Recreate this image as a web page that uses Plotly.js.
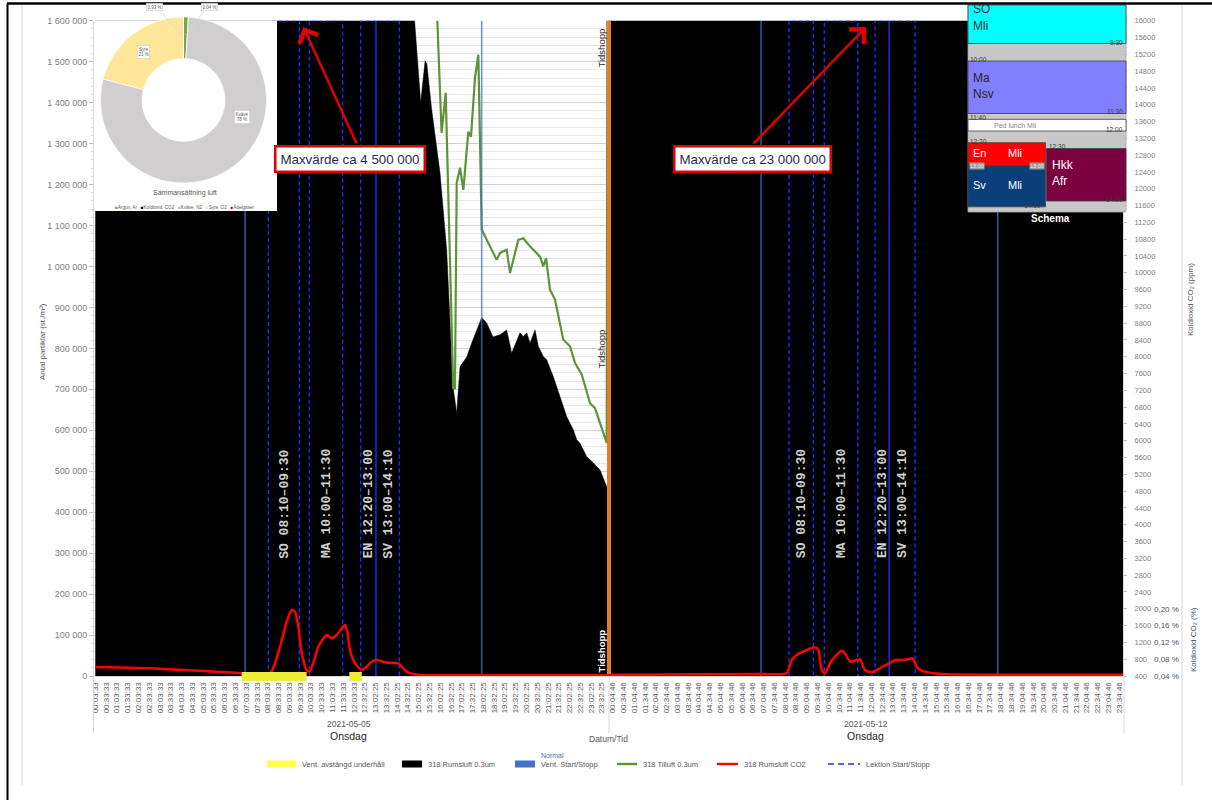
<!DOCTYPE html>
<html>
<head>
<meta charset="utf-8">
<script src="https://cdn.plot.ly/plotly-3.0.1.min.js"></script>
<style>html,body{margin:0;padding:0;background:#fff;}#chart{width:1212px;height:800px;}</style>
</head>
<body>
<div id="chart"></div>
<script>
// ---------- tick labels (x = half-hour slot index) ----------
const day1Ticks = ["00:03:33","00:33:33","01:03:33","01:33:33","02:03:33","02:33:33","03:03:33","03:33:33","04:03:33","04:33:33","05:03:33","05:33:33","06:03:33","06:33:33","07:03:33","07:33:33","08:03:33","08:33:33","09:03:33","09:33:33","10:03:33","10:33:33","11:03:33","11:33:33","12:03:33","12:32:25","13:02:25","13:32:25","14:02:25","14:32:25","15:02:25","15:32:25","16:02:25","16:32:25","17:02:25","17:32:25","18:02:25","18:32:25","19:02:25","19:32:25","20:02:25","20:32:25","21:02:25","21:32:25","22:02:25","22:32:25","23:02:25","23:32:25"];
const day2Ticks = ["00:04:46","00:34:46","01:04:46","01:34:46","02:04:46","02:34:46","03:04:46","03:34:46","04:04:46","04:34:46","05:04:46","05:34:46","06:04:46","06:34:46","07:04:46","07:34:46","08:04:46","08:34:46","09:04:46","09:34:46","10:04:46","10:34:46","11:04:46","11:34:46","12:04:46","12:34:46","13:04:46","13:34:46","14:04:46","14:34:46","15:04:46","15:34:46","16:04:46","16:34:46","17:04:46","17:34:46","18:04:46","18:34:46","19:04:46","19:34:46","20:04:46","20:34:46","21:04:46","21:34:46","22:04:46","22:34:46","23:04:46","23:34:46"];
const dayDates = ["2021-05-05","2021-05-12"];
const dayNames = ["Onsdag","Onsdag"];
const dayCenters = [23.5, 71.5];

// ---------- 318 Rumsluft 0.3um (st./m3) ----------
const roomX = [0,6,12,16,19.3,23,26,28.2,29.2,30.19,30.6,30.76,31.21,31.98,32.6,33.19,33.53,33.84,34.46,35.04,35.85,36.31,36.9,37.55,38.17,38.63,39.4,39.71,40.03,40.33,40.8,41.1,41.57,41.88,42.49,43.12,43.74,44.35,44.67,44.97,45.59,46.21,46.83,47.45,47.6,
               47.75,56,64,71.5,78,86,95.35];
const roomY = [2000000,1900000,2300000,3600000,4500000,3900000,3000000,2200000,1750000,1400000,1502000,1495000,1383000,1229000,1041000,706000,642000,755000,779000,821000,875000,862000,828000,833000,845000,788000,838000,829000,838000,813000,845000,805000,780000,772000,731000,682000,633000,601000,577000,568000,536000,520000,503000,462000,454000,
               9000000,14000000,19000000,23000000,17000000,12000000,8000000];

// ---------- 318 Tilluft 0.3um ----------
const supplyX = [0,12,24,31.3,32.13,32.51,33.21,33.37,33.53,33.84,34.15,34.61,34.86,35.23,35.54,35.79,35.85,36.62,37.24,37.55,38.17,38.48,39.25,39.71,40.33,41.26,41.57,41.82,42.19,42.65,43.42,44.04,44.51,45.13,45.9,46.36,46.67,46.98,47.45,47.6,60,75,95.35];
const supplyY = [2400000,2900000,2700000,1900000,1326000,1424000,703000,703000,1204000,1241000,1187000,1329000,1317000,1461000,1517000,1097000,1090000,1049000,1016000,1033000,1041000,984000,1065000,1069000,1049000,1024000,1000000,1020000,943000,919000,821000,805000,764000,736000,666000,654000,630000,605000,569000,3000000,3800000,4200000,3000000];

// ---------- 318 Rumsluft CO2 (ppm) ----------
const co2X = [0,6,13.42,16.21,17.14,17.76,18.22,18.53,18.84,19.15,19.61,19.86,20.23,20.69,21.47,21.93,22.4,22.86,23.17,23.38,23.63,24.1,24.72,25.18,25.65,26.11,27.04,28.11,28.43,28.89,29.5,30.13,40,47.6,
              48,61.67,64.15,64.61,65.08,66.0,66.78,67.08,67.4,67.7,68.17,68.63,69.25,69.56,70.02,70.64,70.95,71.41,72.04,72.5,73.11,73.58,74.2,74.82,75.43,75.84,76.21,76.68,77.75,78.99,95.35];
const co2Y = [614,575,471,464,1097,1692,1971,1931,1573,947,543,502,709,1097,1376,1297,1376,1535,1614,1454,1019,702,543,621,740,781,717,702,621,502,448,424,420,418,
              430,450,464,781,900,1019,1084,1019,543,464,702,861,1003,940,740,781,797,543,488,543,638,686,781,781,797,821,621,527,464,440,430];

// ---------- events ----------
const ventStartStop = [13.9, 35.85, 61.77, 83.73];          // Vent. Start/Stopp
const ventOffStart = [13.58, 23.57];                          // Vent. avstängd underhåll
const ventOffEnd   = [19.61, 24.72];
const lessonCodes = ["SO","MA","EN","SV","SO","MA","EN","SV"];
const lessonTimes = ["08:10–09:30","10:00–11:30","12:20–13:00","13:00–14:10","08:10–09:30","10:00–11:30","12:20–13:00","13:00–14:10"];
const lessonStart = [16.05,19.86,24.62,26.04,64.36,67.64,72.35,73.65];
const lessonEnd   = [18.93,22.95,26.04,28.21,66.62,70.74,73.65,76.06];
const timeJump = 47.66;
const maxTexts = ["Maxvärde ca 4 500 000","Maxvärde ca 23 000 000"];
const maxAt = [19.3, 71.51];
const maxBoxAt = [23.63, 60.93];

// ---------- air composition (inset pie) ----------
const airLabels = ["Argon, Ar","Koldioxid, CO2","Kväve, N2","Syre, O2","Ädelgaser"];
const airValues = [0.93,0.04,78.08,20.95,0.003];
const airColors = ["#70AD47","#000000","#D0CECE","#FFE699","#FF0000"];

// ---------- schedule inset ----------
const schedNames   = [["SO","Mli"],["Ma","Nsv"],["Ped lunch Mli"],["En","Mli"],["Hkk","Afr"],["Sv","Mli"]];
const schedStart   = ["08:10","10:00","11:40","12:20","12:30","13:00"];
const schedEnd     = ["09:30","11:30","12:00","13:00","14:00","14:10"];
const schedCol     = ["full","full","full","left","right","left"];
const schedColors  = ["#00FFFF","#8080FF","#FFFFFF","#FF0000","#7A0040","#0B3F7A"];
const schedTxtCol  = ["#333333","#262626","#7f7f7f","#FFFFFF","#FFFFFF","#FFFFFF"];

const TOP = 1600000;
const W = 1212, H = 800;
const px = x => x / W;
const py = y => 1 - y / H;

// ---------- traces ----------
const traces = [];
traces.push({x: roomX, y: roomY, type: 'scatter', mode: 'lines', fill: 'tozeroy', fillcolor: '#000000',
  line: {color: '#000000', width: 0.5}, hoverinfo: 'skip', name: '318 Rumsluft 0.3um'});
traces.push({x: supplyX, y: supplyY, type: 'scatter', mode: 'lines', line: {color: '#5E9438', width: 2.2},
  hoverinfo: 'skip', name: '318 Tilluft 0.3um'});
const vx = [], vy = [];
ventStartStop.forEach(v => { vx.push(v, v, null); vy.push(0, TOP, null); });
traces.push({x: vx, y: vy, type: 'scatter', mode: 'lines', line: {color: 'rgba(68,114,196,0.75)', width: 1.6},
  hoverinfo: 'skip', name: 'Vent. Start/Stopp'});
const lx = [], ly = [];
lessonStart.forEach((s, i) => {
  const e = lessonEnd[i];
  if (i > 0 && s - lessonEnd[i - 1] > 5) { lx.push(null); ly.push(null); }
  lx.push(s, s, e, e); ly.push(0, TOP, TOP, 0);
});
traces.push({x: lx, y: ly, type: 'scatter', mode: 'lines', line: {color: '#1530FF', width: 1.4, dash: '4px,3px'},
  hoverinfo: 'skip', name: 'Lektion Start/Stopp'});
traces.push({x: [timeJump, timeJump], y: [0, TOP], type: 'scatter', mode: 'lines',
  line: {color: '#E87B2E', width: 4}, hoverinfo: 'skip', name: 'Tidshopp'});
traces.push({x: co2X, y: co2Y, yaxis: 'y2', type: 'scatter', mode: 'lines',
  line: {color: '#FF0000', width: 2.5, shape: 'spline', smoothing: 0.6}, hoverinfo: 'skip', name: '318 Rumsluft CO2'});
// white panel behind the inset pie
traces.push({x: [0, 1, 1, 0, 0], y: [0, 0, 1, 1, 0], xaxis: 'x2', yaxis: 'y4', type: 'scatter', mode: 'lines',
  fill: 'toself', fillcolor: '#FFFFFF', line: {width: 0, color: '#FFFFFF'}, hoverinfo: 'skip'});
traces.push({type: 'pie', labels: airLabels, values: airValues, marker: {colors: airColors, line: {color: '#FFFFFF', width: 0.6}},
  hole: 0.5, sort: false, direction: 'clockwise', rotation: 0, textinfo: 'none', hoverinfo: 'skip',
  domain: {x: [px(100), px(267)], y: [py(183), py(17)]}, showlegend: false});

// ---------- shapes & annotations ----------
const shapes = [];
const ann = [];
const lbl = {family: 'Liberation Sans, Arial, sans-serif', color: '#595959'};

// ventilation off (yellow)
ventOffStart.forEach((s, i) => {
  shapes.push({type: 'rect', xref: 'x', yref: 'paper', x0: s, x1: ventOffEnd[i], y0: py(681), y1: py(672),
    fillcolor: '#EDED3A', line: {width: 0}});
});
// category group separators under the axis
[93.5, 609, 1124].forEach(x => shapes.push({type: 'line', xref: 'paper', yref: 'paper', x0: px(x), x1: px(x), y0: py(676), y1: py(733),
  line: {color: '#D9D9D9', width: 1}}));

// x group labels
dayCenters.forEach((c, i) => {
  ann.push({xref: 'x', yref: 'paper', x: c, y: py(724), text: dayDates[i], showarrow: false, font: {...lbl, size: 8.5}});
  ann.push({xref: 'x', yref: 'paper', x: c, y: py(736), text: dayNames[i], showarrow: false, font: {...lbl, size: 10.5, color: '#262626'}});
});
ann.push({xref: 'paper', yref: 'paper', x: px(608.5), y: py(739), text: 'Datum/Tid', showarrow: false, font: {...lbl, size: 8.5}});
// axis titles
ann.push({xref: 'paper', yref: 'paper', x: px(42), y: py(342), text: 'Antal partiklar (st./m³)', textangle: -90, showarrow: false, font: {...lbl, size: 8}});
ann.push({xref: 'paper', yref: 'paper', x: px(1190), y: py(300), text: 'Koldioxid CO₂ (ppm)', textangle: -90, showarrow: false, font: {...lbl, size: 8}});
ann.push({xref: 'paper', yref: 'paper', x: px(1193), y: py(640), text: 'Koldioxid CO₂ (%)', textangle: -90, showarrow: false, font: {...lbl, size: 8, color: '#44546A'}});

// lesson labels
lessonCodes.forEach((c, i) => {
  ann.push({xref: 'x', yref: 'paper', x: (lessonStart[i] + lessonEnd[i]) / 2, y: py(504), textangle: -90, showarrow: false,
    text: '<b>' + c + ' ' + lessonTimes[i] + '</b>', font: {family: 'Liberation Mono, Courier New, monospace', size: 13, color: '#D0D0D0'}});
});
// Tidshopp labels
[[48, '#262626'], [349, '#262626'], [651, '#FFFFFF']].forEach(([y, col]) => {
  ann.push({xref: 'x', yref: 'paper', x: timeJump, xshift: -7.5, y: py(y), textangle: -90, showarrow: false,
    text: y > 600 ? '<b>Tidshopp</b>' : 'Tidshopp', font: {...lbl, size: 9.5, color: col}});
});
// max value callouts
maxTexts.forEach((t, i) => {
  ann.push({xref: 'x', yref: 'paper', x: maxBoxAt[i], y: py(159), text: t, showarrow: false,
    bgcolor: '#FFFFFF', bordercolor: '#E00000', borderwidth: 2.5, borderpad: 4,
    font: {family: 'Liberation Sans, Arial, sans-serif', size: 13.3, color: '#1F2D4D'}});
  ann.push({xref: 'x', yref: 'paper', x: maxAt[i], y: py(27), text: '', showarrow: true, arrowhead: 4, arrowsize: 1.6,
    arrowwidth: 2.5, arrowcolor: '#E00000', ax: i === 0 ? 54 : -114, ay: 118, standoff: 0, startstandoff: 0});
});

// pie inset texts
ann.push({xref: 'paper', yref: 'paper', x: px(143), y: py(52), text: 'Syre<br>21 %', showarrow: false, bgcolor: '#fff', bordercolor: '#BFBFBF', borderwidth: 0.5, borderpad: 1, font: {...lbl, size: 4.5}});
ann.push({xref: 'paper', yref: 'paper', x: px(242), y: py(117), text: 'Kväve<br>78 %', showarrow: false, bgcolor: '#fff', bordercolor: '#BFBFBF', borderwidth: 0.5, borderpad: 1, font: {...lbl, size: 4.5}});
ann.push({xref: 'paper', yref: 'paper', x: px(154), y: py(7), text: '0,93 %', showarrow: false, bgcolor: '#fff', bordercolor: '#BFBFBF', borderwidth: 0.5, borderpad: 1, font: {...lbl, size: 4.5}});
ann.push({xref: 'paper', yref: 'paper', x: px(209), y: py(7), text: '0,04 %', showarrow: false, bgcolor: '#fff', bordercolor: '#BFBFBF', borderwidth: 0.5, borderpad: 1, font: {...lbl, size: 4.5}});
shapes.push({type: 'line', xref: 'paper', yref: 'paper', x0: px(160), y0: py(11), x1: px(182), y1: py(35), line: {color: '#D9D9D9', width: 0.8}});
shapes.push({type: 'line', xref: 'paper', yref: 'paper', x0: px(204), y0: py(11), x1: px(186), y1: py(35), line: {color: '#D9D9D9', width: 0.8}});
ann.push({xref: 'paper', yref: 'paper', x: px(185), y: py(193), text: 'Sammansättning luft', showarrow: false, font: {...lbl, size: 7}});
ann.push({xref: 'paper', yref: 'paper', x: px(185), y: py(207), showarrow: false, font: {...lbl, size: 4.6},
  text: airLabels.map((l, i) => '<span style="color:' + (airColors[i] === '#D0CECE' ? '#BFBFBF' : airColors[i]) + '">■</span>' + l).join('   ')});

// schedule inset
const tMin = s => { const [h, m] = s.split(':').map(Number); return h * 60 + m; };
const tY = s => 61 + (tMin(s) - 600) * 0.5833;
const SX0 = 968, SX1 = 1126, SXM = 1045.5;
shapes.push({type: 'rect', xref: 'paper', yref: 'paper', x0: px(SX0), x1: px(SX1), y0: py(212), y1: py(5), fillcolor: '#C8C8C8', line: {color: '#A6A6A6', width: 0.8}});
schedNames.forEach((nm, i) => {
  const x0 = schedCol[i] === 'right' ? SXM + 1 : SX0;
  const x1 = schedCol[i] === 'left' ? SXM : SX1;
  const y0 = Math.max(5, tY(schedStart[i]));
  const y1 = tY(schedEnd[i]);
  shapes.push({type: 'rect', xref: 'paper', yref: 'paper', x0: px(x0), x1: px(x1), y0: py(y1), y1: py(y0),
    fillcolor: schedColors[i], line: {color: '#404040', width: 0.8}});
  const top = tY(schedStart[i]);
  const f = {family: 'Liberation Sans, Arial, sans-serif', color: schedTxtCol[i]};
  if (nm.length === 1) {
    ann.push({xref: 'paper', yref: 'paper', x: px(x0 + 24), y: py((y0 + y1) / 2), xanchor: 'left', text: nm[0], showarrow: false, font: {...f, size: 7}});
  } else if (schedCol[i] === 'left') {
    const yc = (top + y1) / 2 - 1.5;
    ann.push({xref: 'paper', yref: 'paper', x: px(x0 + 3), y: py(yc), xanchor: 'left', text: nm[0], showarrow: false, font: {...f, size: 11}});
    ann.push({xref: 'paper', yref: 'paper', x: px(x0 + 38), y: py(yc), xanchor: 'left', text: nm[1], showarrow: false, font: {...f, size: 11}});
  } else {
    const off = top < 5 ? -4 : 0;
    ann.push({xref: 'paper', yref: 'paper', x: px(x0 + 3), y: py(top + 16.5 + off), xanchor: 'left', text: nm[0], showarrow: false, font: {...f, size: 12}});
    ann.push({xref: 'paper', yref: 'paper', x: px(x0 + 3), y: py(top + 33 + off), xanchor: 'left', text: nm[1], showarrow: false, font: {...f, size: 12}});
  }
});
const schedMarks = [["09:30", SX1 - 2, 'right'], ["10:00", SX0 + 1, 'left'], ["11:30", SX1 - 2, 'right'], ["11:40", SX0 + 1, 'left'],
  ["12:00", SX1 - 2, 'right'], ["12:20", SX0 + 1, 'left'], ["12:30", SXM + 2, 'left'], ["13:00", SX0 + 1, 'left'],
  ["13:00", SXM - 1, 'right'], ["14:00", SX1 - 2, 'right'], ["14:10", SXM - 4, 'right']];
schedMarks.forEach(([t, x, a]) => {
  const lab = t.charAt(0) === '0' ? t.slice(1) : t;
  const is13 = t === '13:00';
  ann.push({xref: 'paper', yref: 'paper', x: px(x), y: py(tY(t) - (is13 ? 0 : 1.5)), xanchor: a, yanchor: 'middle', text: lab, showarrow: false,
    bgcolor: is13 ? '#9A9A9A' : 'rgba(0,0,0,0)', borderpad: 0,
    font: {family: 'Liberation Sans, Arial, sans-serif', size: is13 ? 5.5 : 6.5, color: is13 ? '#EDEDED' : '#3a3a3a'}});
});
ann.push({xref: 'paper', yref: 'paper', x: px(1050), y: py(219), text: '<b>Schema</b>', showarrow: false,
  font: {family: 'Liberation Sans, Arial, sans-serif', size: 10, color: '#FFFFFF'}});

// manual legend
const legY = 764;
const legItems = [
  {kind: 'rect', color: '#FFFF4D', x0: 267, x1: 296, text: 'Vent. avstängd underhåll'},
  {kind: 'rect', color: '#000000', x0: 402, x1: 422, text: '318 Rumsluft 0.3um'},
  {kind: 'rect', color: '#4472C4', x0: 515, x1: 535, text: 'Vent. Start/Stopp'},
  {kind: 'line', color: '#5E9438', x0: 617, x1: 637, text: '318 Tilluft 0.3um'},
  {kind: 'line', color: '#FF0000', x0: 717, x1: 738, text: '318 Rumsluft CO2'},
  {kind: 'dash', color: '#1530FF', x0: 828, x1: 860, text: 'Lektion Start/Stopp'}
];
legItems.forEach(it => {
  if (it.kind === 'rect') {
    shapes.push({type: 'rect', xref: 'paper', yref: 'paper', x0: px(it.x0), x1: px(it.x1), y0: py(legY + 3.5), y1: py(legY - 3.5), fillcolor: it.color, line: {width: 0}});
  } else {
    shapes.push({type: 'line', xref: 'paper', yref: 'paper', x0: px(it.x0), x1: px(it.x1), y0: py(legY), y1: py(legY),
      line: {color: it.color, width: it.kind === 'dash' ? 1.6 : 2.4, dash: it.kind === 'dash' ? '6px,4px' : 'solid'}});
  }
  ann.push({xref: 'paper', yref: 'paper', x: px(it.x1 + 4), y: py(legY), xanchor: 'left', text: it.text, showarrow: false, font: {...lbl, size: 7.5}});
});
ann.push({xref: 'paper', yref: 'paper', x: px(539), y: py(755), xanchor: 'left', text: 'Normal', showarrow: false, font: {...lbl, size: 7, color: '#5A6E9A'}});

// document / chart frames
shapes.push({type: 'line', xref: 'paper', yref: 'paper', x0: px(7), x1: 1, y0: py(3.5), y1: py(3.5), line: {color: '#000', width: 2.5}});
shapes.push({type: 'line', xref: 'paper', yref: 'paper', x0: px(7.5), x1: px(7.5), y0: py(3.5), y1: 0, line: {color: '#000', width: 2}});
shapes.push({type: 'line', xref: 'paper', yref: 'paper', x0: px(22), x1: px(22), y0: py(5), y1: py(785), line: {color: '#D9D9D9', width: 1}});
shapes.push({type: 'line', xref: 'paper', yref: 'paper', x0: px(1182), x1: px(1182), y0: py(5), y1: py(785), line: {color: '#D9D9D9', width: 1}});

// explicit anchors (avoid Plotly's auto anchoring on paper coordinates)
ann.forEach(a => { if (!a.xanchor) a.xanchor = 'center'; if (!a.yanchor) a.yanchor = 'middle'; });

// ---------- axes ----------
const tickvals = [], ticktext = [];
day1Ticks.concat(day2Ticks).forEach((t, i) => { tickvals.push(i); ticktext.push(t); });

const layout = {
  width: W, height: H, margin: {l: 0, r: 0, t: 0, b: 0}, paper_bgcolor: '#FFFFFF', plot_bgcolor: '#FFFFFF',
  separators: ', ', showlegend: false, font: {family: 'Liberation Sans, Arial, sans-serif', color: '#595959'},
  xaxis: {domain: [px(94), px(1123)], range: [-0.12, 95.35], tickmode: 'array', tickvals: tickvals, ticktext: ticktext,
    tickangle: -90, tickfont: {size: 8, color: '#595959'}, showgrid: false, zeroline: false, showline: true,
    linecolor: '#D9D9D9', ticks: '', automargin: false, ticklabelstandoff: 2, fixedrange: true},
  yaxis: {domain: [py(676), py(20.7)], range: [0, TOP], tick0: 0, dtick: 100000, tickformat: ',d',
    tickfont: {size: 9, color: '#7F7F7F'}, showgrid: true, gridcolor: '#CFCFCF', gridwidth: 1,
    minor: {dtick: 20000, showgrid: true, gridcolor: '#E9E9E9', gridwidth: 1, ticks: 'outside', ticklen: 2, tickcolor: '#D9D9D9'},
    zeroline: false, showline: true, linecolor: '#D9D9D9', ticks: 'outside', ticklen: 4, tickcolor: '#BFBFBF',
    automargin: false, fixedrange: true},
  yaxis2: {overlaying: 'y', side: 'right', range: [400, 16000], tick0: 400, dtick: 400, tickformat: 'd',
    tickfont: {size: 7.5, color: '#7F7F7F'}, showgrid: false, zeroline: false, showline: true, linecolor: '#D9D9D9',
    ticks: 'outside', ticklen: 3, tickcolor: '#BFBFBF', ticklabelstandoff: 6, automargin: false, fixedrange: true},
  yaxis3: {overlaying: 'y', side: 'right', anchor: 'free', position: px(1153), range: [0.04, 1.6],
    tickmode: 'array', tickvals: [0.04, 0.08, 0.12, 0.16, 0.20], ticktext: ['0,04 %', '0,08 %', '0,12 %', '0,16 %', '0,20 %'],
    tickfont: {size: 8, color: '#44546A'}, showgrid: false, zeroline: false, showline: false, ticks: '', automargin: false, fixedrange: true},
  xaxis2: {domain: [px(94), px(277)], range: [0, 1], visible: false, anchor: 'y4', fixedrange: true},
  yaxis4: {domain: [py(211), py(20.7)], range: [0, 1], visible: false, anchor: 'x2', fixedrange: true},
  shapes: shapes, annotations: ann
};
// dummy trace to register the percent axis
traces.push({x: [0], y: [0.04], yaxis: 'y3', type: 'scatter', mode: 'markers', marker: {opacity: 0}, hoverinfo: 'skip'});

Plotly.newPlot('chart', traces, layout, {displayModeBar: false, staticPlot: true});
</script>
</body>
</html>
